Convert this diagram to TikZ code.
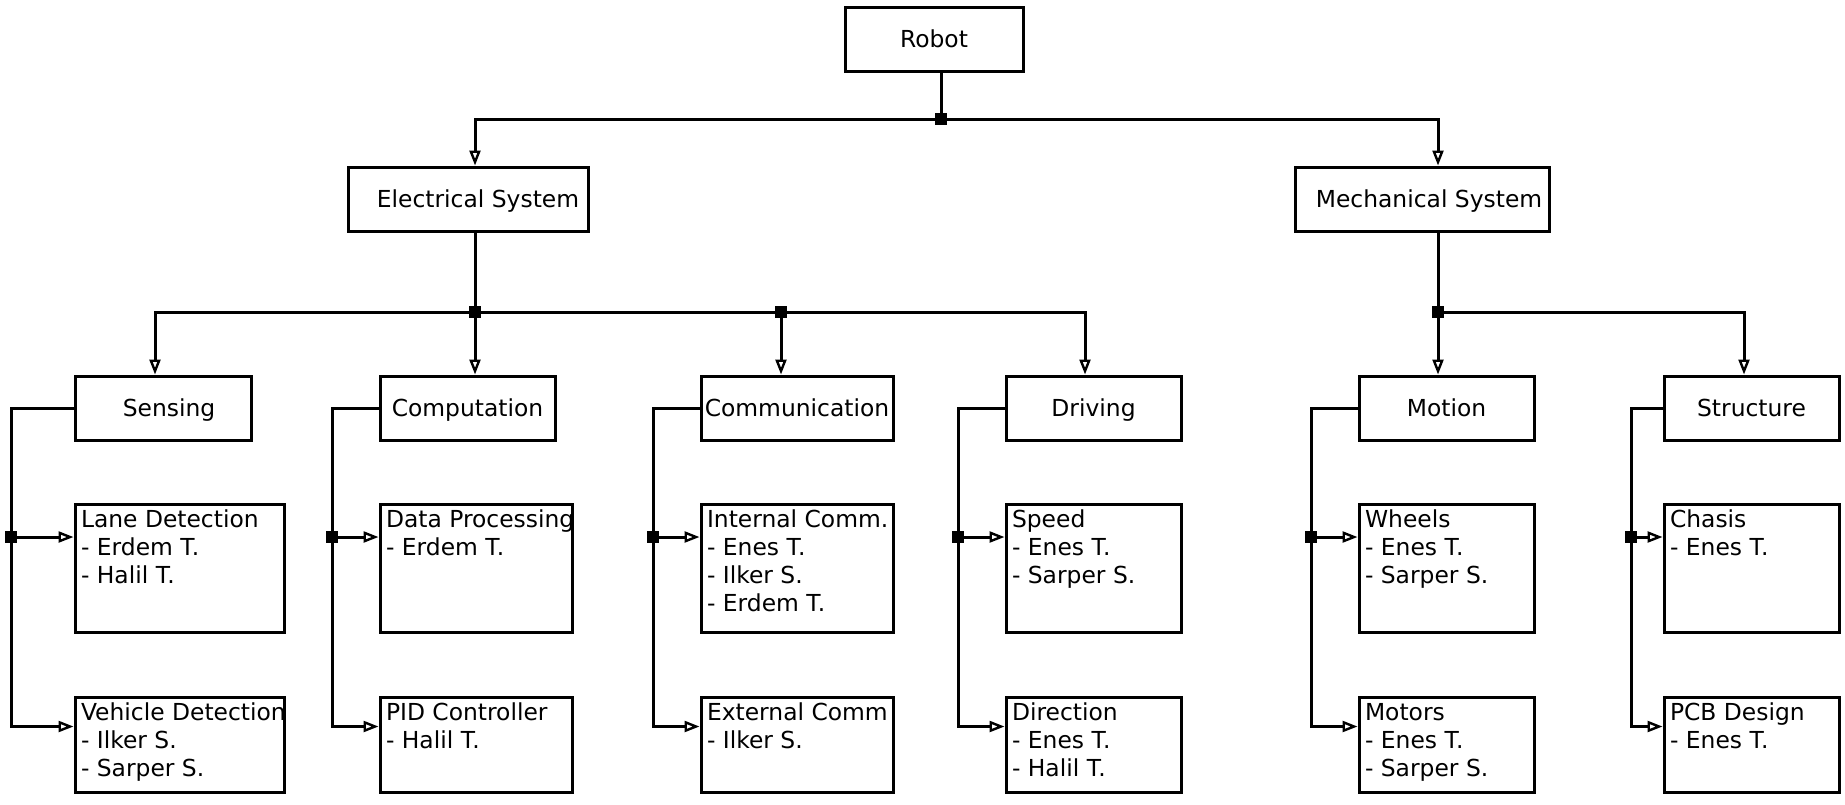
\documentclass[tikz,border=0pt]{standalone}
\usepackage{fontspec}
\setmainfont{DejaVu Sans}
\usetikzlibrary{arrows.meta}

\tikzset{
  unit/.style={draw, line width=1.5pt, minimum height=32pt, inner xsep=1pt,
    text height=9pt, text depth=0.5pt},
  leaf/.style={draw, line width=1.5pt, inner sep=3pt},
  wire/.style={line width=1.5pt},
  feed/.style={wire, -{Triangle[open, length=7.5pt, width=5.5pt, line width=1.2pt]}},
  joint/.style={fill, inner sep=0pt, minimum size=6pt},
}
\newcommand{\crew}[3]{\parbox[t][#2][t]{#1}{#3}}

\begin{document}
\begin{tikzpicture}[x=0.5pt, y=-0.5pt, font=\fontsize{11.7}{14}\selectfont]
\useasboundingbox (0,0) rectangle (1845,804);

% top two levels
\node[unit, minimum width=89pt] (robot) at (934,39) {Robot};
\node[unit, minimum width=120pt] (elec) at (468,199) {\hspace*{10pt}Electrical System};
\node[unit, minimum width=127pt] (mech) at (1422,199) {\hspace*{7pt}Mechanical System};

% subsystems
\node[unit, minimum width=88pt] (sensing) at (163,408) {\hspace*{6pt}Sensing};
\node[unit, minimum width=87.5pt] (computation) at (467.5,408) {Computation};
\node[unit, minimum width=96pt] (comm) at (797,408) {Communication};
\node[unit, minimum width=87.5pt] (driving) at (1093.5,408) {Driving};
\node[unit, minimum width=87.5pt] (motion) at (1446.5,408) {Motion};
\node[unit, minimum width=87.5pt] (structure) at (1751.5,408) {Structure};

% tasks
\node[leaf] (lane) at (179.5,568) {\crew{98.5pt}{58pt}{\mbox{Lane Detection}\\- Erdem T.\\- Halil T.}};
\node[leaf] (vehicle) at (179.5,744.5) {\crew{98.5pt}{41.5pt}{\mbox{Vehicle Detection}\\- Ilker S.\\- Sarper S.}};
\node[leaf] (dataproc) at (476,568) {\crew{90pt}{58pt}{\mbox{Data Processing}\\- Erdem T.}};
\node[leaf] (pid) at (476,744.5) {\crew{90pt}{41.5pt}{\mbox{PID Controller}\\- Halil T.}};
\node[leaf] (internal) at (797,568) {\crew{90pt}{58pt}{\mbox{Internal Comm.}\\- Enes T.\\- Ilker S.\\- Erdem T.}};
\node[leaf] (external) at (797,744.5) {\crew{90pt}{41.5pt}{\mbox{External Comm}\\- Ilker S.}};
\node[leaf] (speed) at (1093.5,568) {\crew{81.5pt}{58pt}{Speed\\- Enes T.\\- Sarper S.}};
\node[leaf] (direction) at (1093.5,744.5) {\crew{81.5pt}{41.5pt}{Direction\\- Enes T.\\- Halil T.}};
\node[leaf] (wheels) at (1446.5,568) {\crew{81.5pt}{58pt}{Wheels\\- Enes T.\\- Sarper S.}};
\node[leaf] (motors) at (1446.5,744.5) {\crew{81.5pt}{41.5pt}{Motors\\- Enes T.\\- Sarper S.}};
\node[leaf] (chasis) at (1751.5,568) {\crew{81.5pt}{58pt}{Chasis\\- Enes T.}};
\node[leaf] (pcb) at (1751.5,744.5) {\crew{81.5pt}{41.5pt}{\mbox{PCB Design}\\- Enes T.}};

% junctions
\node[joint] (rootj) at (941,119) {};
\node[joint] (elecj) at (475,312) {};
\node[joint] (commj) at (781,312) {};
\node[joint] (mechj) at (1438,312) {};
\coordinate (sensx) at (155,312);
\coordinate (drivx) at (1085,312);
\coordinate (structx) at (1744,312);
\node[joint] (sensj) at (11,537) {};
\node[joint] (compj) at (332,537) {};
\node[joint] (commsj) at (653,537) {};
\node[joint] (drivj) at (958,537) {};
\node[joint] (motj) at (1311,537) {};
\node[joint] (structj) at (1631,537) {};

\draw[wire] (robot.south -| rootj) -- (rootj);
\draw[feed] (rootj) -| (elec.north -| elecj);
\draw[feed] (rootj) -| (mech.north -| mechj);

\draw[wire] (elec.south -| elecj) -- (elecj);
\draw[feed] (elecj) -| (sensing.north -| sensx);
\draw[feed] (elecj) -- (computation.north -| elecj);
\draw[wire] (elecj) -- (commj);
\draw[feed] (commj) -- (comm.north -| commj);
\draw[feed] (commj) -| (driving.north -| drivx);

\draw[wire] (mech.south -| mechj) -- (mechj);
\draw[feed] (mechj) -- (motion.north -| mechj);
\draw[feed] (mechj) -| (structure.north -| structx);

\draw[wire] (sensing.west) -| (sensj);
\draw[feed] (sensj) -- (lane.west |- sensj);
\draw[feed] (sensj) |- ([yshift=-15.5pt]vehicle.north west);

\draw[wire] (computation.west) -| (compj);
\draw[feed] (compj) -- (dataproc.west |- compj);
\draw[feed] (compj) |- ([yshift=-15.5pt]pid.north west);

\draw[wire] (comm.west) -| (commsj);
\draw[feed] (commsj) -- (internal.west |- commsj);
\draw[feed] (commsj) |- ([yshift=-15.5pt]external.north west);

\draw[wire] (driving.west) -| (drivj);
\draw[feed] (drivj) -- (speed.west |- drivj);
\draw[feed] (drivj) |- ([yshift=-15.5pt]direction.north west);

\draw[wire] (motion.west) -| (motj);
\draw[feed] (motj) -- (wheels.west |- motj);
\draw[feed] (motj) |- ([yshift=-15.5pt]motors.north west);

\draw[wire] (structure.west) -| (structj);
\draw[feed] (structj) -- (chasis.west |- structj);
\draw[feed] (structj) |- ([yshift=-15.5pt]pcb.north west);

\end{tikzpicture}
\end{document}
